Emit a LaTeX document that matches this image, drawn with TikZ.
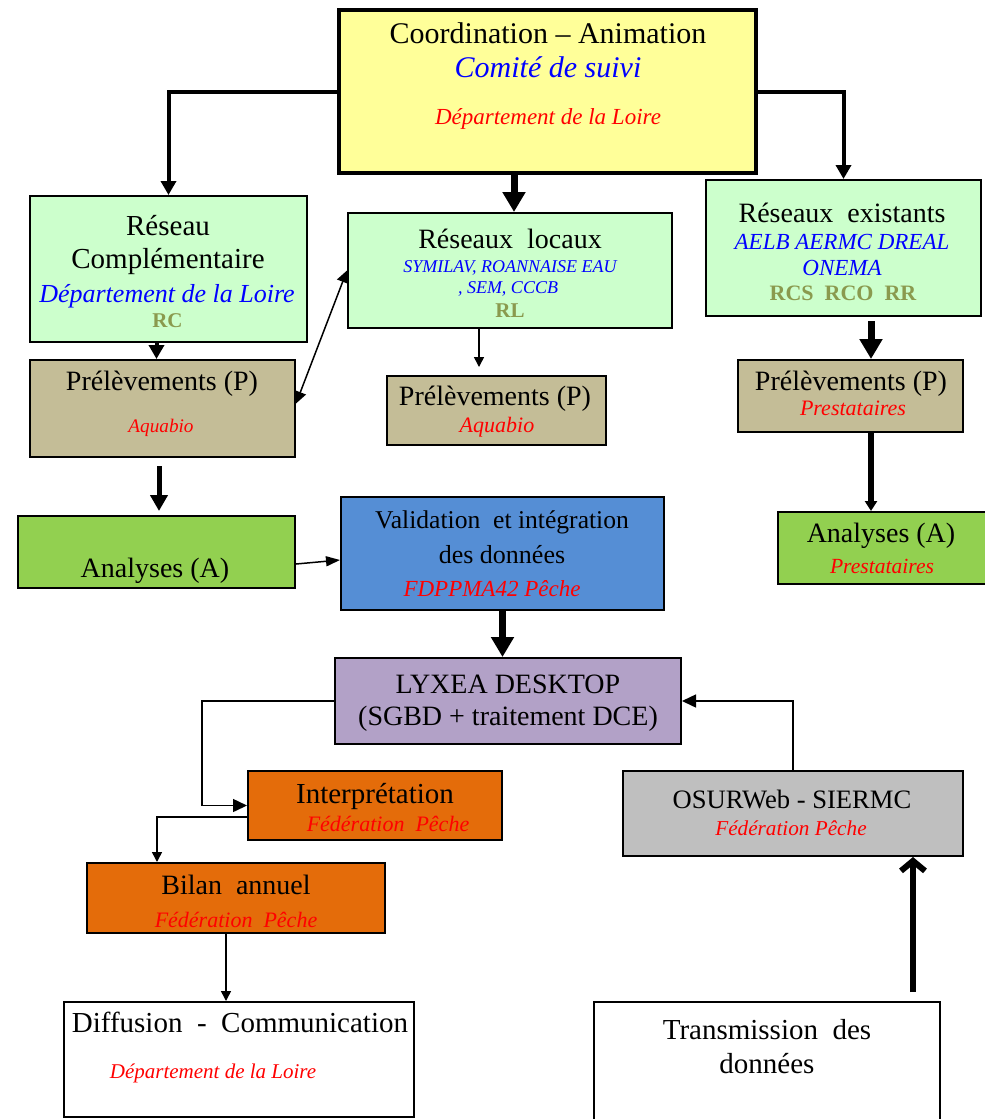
\documentclass[tikz,border=0pt]{standalone}
\usepackage{fontspec}
\setmainfont{Liberation Serif}
\usetikzlibrary{arrows.meta}
\definecolor{coordyellow}{HTML}{FFFF99}
\definecolor{netgreen}{HTML}{CCFFCC}
\definecolor{samptan}{HTML}{C4BD97}
\definecolor{labgreen}{HTML}{92D050}
\definecolor{valblue}{HTML}{558ED5}
\definecolor{dblilac}{HTML}{B2A1C7}
\definecolor{fedorange}{HTML}{E46C0A}
\definecolor{webgrey}{HTML}{BFBFBF}
\definecolor{codeolive}{HTML}{8A9A4E}
\newcommand{\fs}[1]{\fontsize{#1}{#1}\selectfont}
\newcommand{\wgap}{\hspace{0.5em}}
\tikzset{
  box/.style={draw, rectangle, line width=1pt, inner sep=0pt},
  txt/.style={anchor=base, inner sep=0pt, font=\fs{14}},
  org/.style={txt, text=blue, font=\fs{11.5}\itshape},
  who/.style={txt, text=red, font=\fs{11}\itshape},
  code/.style={txt, text=codeolive, font=\fs{11}\bfseries},
  lineflow/.style={line width=0.75pt, -{Triangle[length=5pt,width=5pt]}},
  twoflow/.style={line width=0.75pt, {Triangle[length=6pt,width=6pt]}-{Triangle[length=6pt,width=6pt]}},
  midflow/.style={line width=2pt, -{Triangle[length=7pt,width=7.5pt]}},
  fatflow/.style={line width=3.5pt, -{Triangle[length=10pt,width=11pt]}},
}

\begin{document}
\begin{tikzpicture}[x=0.5pt, y=-0.5pt]
  \useasboundingbox (0,0) rectangle (985,1119);

  % boxes
  \node[box, line width=2pt, fill=coordyellow, minimum width=208.5pt, minimum height=81.5pt] (coord) at (547.5,91.5) {};
  \node[box, fill=netgreen, minimum width=138.5pt, minimum height=73pt] (rc) at (168.5,269) {};
  \node[box, fill=netgreen, minimum width=162pt, minimum height=57.5pt] (rl) at (510,270.5) {};
  \node[box, fill=netgreen, minimum width=137.5pt, minimum height=68pt] (re) at (843.5,248) {};
  \node[box, fill=samptan, minimum width=132.5pt, minimum height=48.5pt] (pl) at (162.5,408.5) {};
  \node[box, fill=samptan, minimum width=109.5pt, minimum height=34.5pt] (pm) at (496.5,410.5) {};
  \node[box, fill=samptan, minimum width=112.5pt, minimum height=36pt] (pr) at (850.5,396) {};
  \node[box, fill=labgreen, minimum width=138.5pt, minimum height=36pt] (al) at (156.5,552) {};
  \node[box, fill=valblue, minimum width=161.5pt, minimum height=56.5pt] (val) at (502.5,553.5) {};
  \node[box, fill=labgreen, minimum width=107pt, minimum height=36pt] (ar) at (885,548) {};
  \node[box, fill=dblilac, minimum width=173pt, minimum height=43pt] (lyx) at (508,701) {};
  \node[box, fill=fedorange, minimum width=127pt, minimum height=34.5pt] (int) at (375,805.5) {};
  \node[box, fill=webgrey, minimum width=170pt, minimum height=42.5pt] (osu) at (793,813.5) {};
  \node[box, fill=fedorange, minimum width=149pt, minimum height=35pt] (bil) at (236,898) {};
  \node[box, fill=white, minimum width=175pt, minimum height=57.5pt] (dif) at (239,1059.5) {};
  \node[box, fill=white, minimum width=173pt, minimum height=64pt] (tra) at (767,1066) {};

  % texts
  \node[txt, font=\fs{15}] (coord-t1) at (548,43) {Coordination – Animation};
  \node[org, font=\fs{15}\itshape] (coord-t2) at (548,77) {Comité de suivi};
  \node[who, font=\fs{11.5}\itshape] (coord-t3) at (548,124) {Département de la Loire};

  \node[txt, font=\fs{14.5}] (rc-t1) at (168,235) {Réseau};
  \node[txt, font=\fs{14.5}] (rc-t2) at (168,268) {Complémentaire};
  \node[org, font=\fs{13}\itshape] (rc-t3) at (167,302) {Département de la Loire};
  \node[code, font=\fs{10.5}\bfseries] (rc-t4) at (167.5,327) {RC};

  \node[txt] (rl-t1) at (510,248) {Réseaux\wgap locaux};
  \node[org, font=\fs{9}\itshape] (rl-t2) at (510,272) {SYMILAV, ROANNAISE EAU};
  \node[org, font=\fs{9}\itshape] (rl-t3) at (508,293) {, SEM, CCCB};
  \node[code, font=\fs{10.5}\bfseries] (rl-t4) at (510,317) {RL};

  \node[txt] (re-t1) at (842,222) {Réseaux\wgap existants};
  \node[org] (re-t2) at (842,249) {AELB AERMC DREAL};
  \node[org] (re-t3) at (842,275) {ONEMA};
  \node[code] (re-t4) at (843,300) {RCS\wgap RCO\wgap RR};

  \node[txt] (pl-t1) at (162,390) {Prélèvements (P)};
  \node[who, font=\fs{9.6}\itshape] (pl-t2) at (161,432) {Aquabio};

  \node[txt] (pm-t1) at (495,405) {Prélèvements (P)};
  \node[who] (pm-t2) at (497,432) {Aquabio};

  \node[txt] (pr-t1) at (851,390) {Prélèvements (P)};
  \node[who] (pr-t2) at (853,415) {Prestataires};

  \node[txt] (al-t1) at (155,577) {Analyses (A)};

  \node[txt, font=\fs{12.8}] (val-t1) at (502,528) {Validation\wgap et intégration};
  \node[txt, font=\fs{13}] (val-t2) at (502,563) {des données};
  \node[who, font=\fs{11.5}\itshape] (val-t3) at (492,596) {FDPPMA42 Pêche};

  \node[txt] (ar-t1) at (881,542) {Analyses (A)};
  \node[who, font=\fs{10.8}\itshape] (ar-t2) at (882,573) {Prestataires};

  \node[txt] (lyx-t1) at (508,693) {LYXEA DESKTOP};
  \node[txt] (lyx-t2) at (508,725) {(SGBD + traitement DCE)};

  \node[txt, font=\fs{14.5}] (int-t1) at (375,803) {Interprétation};
  \node[who] (int-t2) at (388,831) {Fédération\wgap Pêche};

  \node[txt, font=\fs{13.3}] (osu-t1) at (792,808) {OSURWeb - SIERMC};
  \node[who, font=\fs{10.6}\itshape] (osu-t2) at (791,835) {Fédération Pêche};

  \node[txt] (bil-t1) at (236,894) {Bilan\wgap annuel};
  \node[who] (bil-t2) at (236,927) {Fédération\wgap Pêche};

  \node[txt, font=\fs{14.5}] (dif-t1) at (240,1032) {Diffusion\wgap -\wgap Communication};
  \node[who, font=\fs{10.5}\itshape] (dif-t2) at (213,1078) {Département de la Loire};

  \node[txt, font=\fs{14.5}] (tra-t1) at (767,1039) {Transmission\wgap des};
  \node[txt, font=\fs{14.5}] (tra-t2) at (767,1073) {données};

  % connectors
  \draw[midflow] (coord.west) -| (rc.north);
  \draw[midflow] (coord.east) -| (re.north);
  \draw[fatflow] ([xshift=2pt]rl.north |- coord.south) -- ([xshift=2pt]rl.north);
  \draw[midflow] ([xshift=-6pt]rc.south) -- ([xshift=-6pt]rc.south |- pl.north);
  \draw[twoflow] ([yshift=2.5pt]pl.east) -- (rl.west);
  \draw[lineflow, shorten >=4pt] ([xshift=-15.5pt]rl.south) -- ([xshift=-15.5pt]rl.south |- pm.north);
  \draw[fatflow, shorten <=2pt] ([xshift=13.75pt]re.south) -- ([xshift=13.75pt]re.south |- pr.north);
  \draw[line width=2.5pt, -{Triangle[length=8pt,width=8.5pt]}, shorten <=4pt, shorten >=2pt]
    ([xshift=-1.75pt]pl.south) -- ([xshift=-1.75pt]pl.south |- al.north);
  \draw[line width=3pt, -{Triangle[length=5pt,width=6pt]}] ([xshift=10.25pt]pr.south) -- ([xshift=10.25pt]pr.south |- ar.north);
  \draw[lineflow, -{Triangle[length=7pt,width=5pt]}] ([yshift=-6pt]al.east) -- ([yshift=-3.25pt]val.west);
  \draw[fatflow] (val.south) -- (val.south |- lyx.north);
  \draw[lineflow, -{Triangle[length=7pt,width=6.5pt]}] (lyx.west) -- ++(-66pt,0) |- (int.west);
  \draw[lineflow] ([yshift=-5.75pt]int.west) -| ([xshift=-39.5pt]bil.north);
  \draw[lineflow] ([xshift=-5pt]bil.south) -- ([xshift=-5pt]bil.south |- dif.north);
  \draw[lineflow, -{Triangle[length=7pt,width=6.5pt]}] (osu.north) |- (lyx.east);
  \draw[line width=3pt, -{Straight Barb[length=5pt,width=12pt]}]
    ([xshift=73pt,yshift=4.5pt]tra.north) -- ([xshift=60pt]osu.south);
\end{tikzpicture}
\end{document}
